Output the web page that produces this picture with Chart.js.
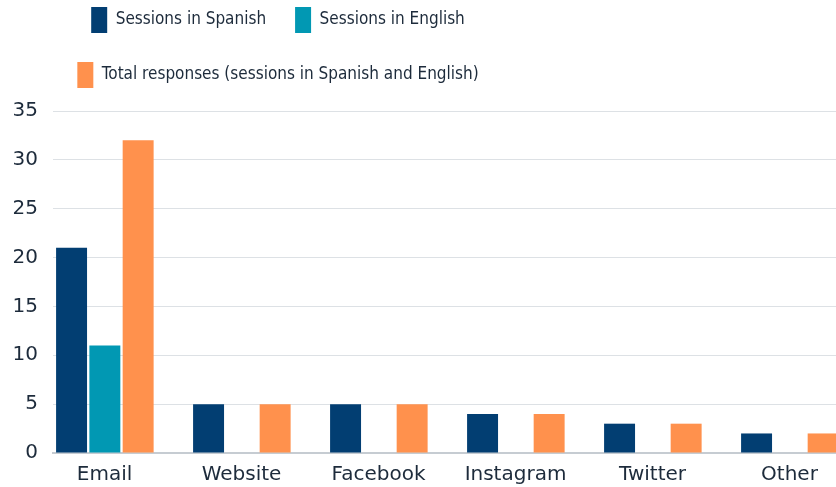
<!DOCTYPE html>
<html>
<head>
<meta charset="utf-8">
<script src="https://cdn.jsdelivr.net/npm/chart.js@4"></script>
<style>
  html, body { margin: 0; padding: 0; background: #fff; overflow: hidden; }
  #wrap { width: 875px; height: 487px; position: relative; }
</style>
</head>
<body>
<div id="wrap"><canvas id="bars"></canvas></div>
<script>
const categories = ['Email', 'Website', 'Facebook', 'Instagram', 'Twitter', 'Other'];
const spanish = [21, 5, 5, 4, 3, 2];
const english = [11, 0, 0, 0, 0, 0];
const total = [32, 5, 5, 4, 3, 2];
// empty slot after the three bars, the original leaves a gap there
const gap = [null, null, null, null, null, null];
const yTicks = [0, 5, 10, 15, 20, 25, 30, 35];

const ink = '#1d2b3b';

// legend is narrower than the chart and sits left of centre in the original
const legendBox = {
  id: 'legendBox',
  beforeLayout(chart) {
    const lg = chart.legend;
    if (!lg || lg._boxed) return;
    lg._boxed = true;
    const fit = lg.fit;
    lg.fit = function () {
      this.maxWidth = 556;
      fit.call(this);
      this.height = 111;
    };
  },
  afterLayout(chart) {
    const lg = chart.legend;
    lg.left = 0;
    lg.right = 556;
    lg.width = 556;
    lg.top = -22;
  }
};

const ctx = document.querySelector('#bars').getContext('2d');

new Chart(ctx, {
  type: 'bar',
  data: {
    labels: categories,
    datasets: [
      { label: 'Sessions in Spanish', data: spanish, backgroundColor: '#023e72' },
      { label: 'Sessions in English', data: english, backgroundColor: '#0198b3' },
      { label: 'Total responses (sessions in Spanish and English)', data: total, backgroundColor: '#ff914d' },
      { label: '', data: gap, backgroundColor: 'rgba(0,0,0,0)' }
    ]
  },
  options: {
    responsive: true,
    maintainAspectRatio: false,
    animation: false,
    layout: { padding: 0 },
    datasets: {
      bar: { categoryPercentage: 0.972, barPercentage: 0.93, borderWidth: 0 }
    },
    plugins: {
      tooltip: { enabled: false },
      legend: {
        position: 'top',
        labels: {
          boxWidth: 16,
          boxHeight: 26,
          padding: 29,
          color: ink,
          font: { family: "'Liberation Sans Narrow', 'DejaVu Sans Condensed', Roboto, sans-serif", size: 17 },
          filter: (item) => item.text !== ''
        }
      }
    },
    scales: {
      x: {
        grid: { display: false, drawTicks: false },
        border: { display: true, color: '#c6ccd2', width: 2 },
        ticks: {
          color: ink,
          padding: 10,
          labelOffset: -17,
          font: { family: "'DejaVu Sans', sans-serif", size: 20 }
        },
        afterFit(scale) { scale.height = 34; }
      },
      y: {
        min: 0,
        max: 35,
        grid: { color: '#dde1e5', drawTicks: false },
        border: { display: false },
        afterBuildTicks(scale) { scale.ticks = yTicks.map(v => ({ value: v })); },
        ticks: {
          color: ink,
          padding: 15,
          font: { family: "'DejaVu Sans', sans-serif", size: 20 }
        },
        afterFit(scale) { scale.width = 53; }
      }
    }
  },
  plugins: [legendBox]
});
</script>
</body>
</html>
